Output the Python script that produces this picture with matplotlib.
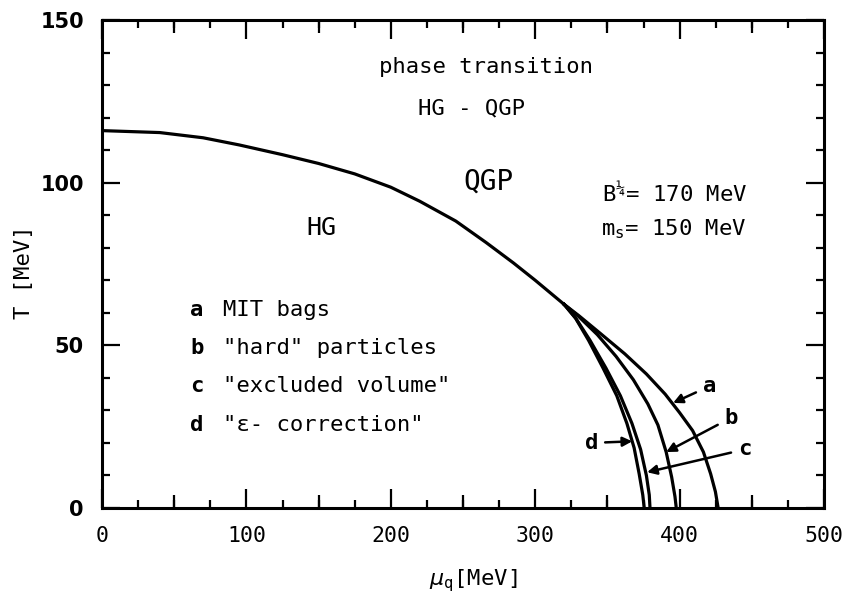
import matplotlib
matplotlib.use("Agg")
import matplotlib.pyplot as plt
from matplotlib.ticker import MultipleLocator

plt.rcParams["font.family"] = ["DejaVu Sans Mono", "DejaVu Sans"]
plt.rcParams["mathtext.fontset"] = "dejavusans"

# common part of the phase boundary T(mu_q), in MeV
mu_common = [0, 40, 70, 95, 125, 150, 175, 200, 220, 245, 266, 285, 300, 320]
T_common = [116, 115.4, 113.8, 111.6, 108.6, 105.9, 102.7, 98.6, 94.3, 88.2, 81.6, 75.3, 70.0, 62.6]

# branches for the four hadron gas models
mu_a = [320, 330, 345, 362, 377, 390, 400, 409, 416.5, 421.5, 424.8, 426.7]
T_a = [62.6, 59.2, 53.7, 47.4, 41.2, 35.0, 29.3, 23.8, 17.2, 10.5, 5.0, 0]
mu_b = [320, 330, 343, 356, 368, 378, 385, 390.7, 394.5, 396.8, 397.7]
T_b = [62.6, 58.9, 53.3, 46.6, 39.4, 32.0, 25.5, 17.2, 9.5, 3.5, 0]
mu_c = [320, 328, 338, 349, 359, 367, 373, 377, 379, 379.5]
T_c = [62.6, 58.4, 51.5, 43.0, 34.5, 26.0, 18.0, 10.0, 4.0, 0]
mu_d = [320, 328, 337, 347, 356.5, 363.5, 368.5, 372, 374.5, 375.5]
T_d = [62.6, 58.3, 51.5, 43.0, 34.5, 26.0, 18.5, 10.5, 4.0, 0]

# curve labels: letter, text position, arrow tip
curve_letters = ["a", "b", "c", "d"]
letter_pos = [(420.5, 37.4), (435.5, 27.7), (445, 18.0), (339, 20.0)]
arrow_tips = [(395.5, 32.3), (390.7, 17.2), (377.5, 11.0), (367.2, 20.5)]

# model list
model_names = ["MIT bags", '"hard" particles', '"excluded volume"', '"\u03b5- correction"']
model_rows = [61, 49.3, 37.6, 25.5]

x_ticks = [0, 100, 200, 300, 400, 500]
y_ticks = [0, 50, 100, 150]

fig = plt.figure(figsize=(8.53, 6.01), dpi=100)
ax = fig.add_axes([102 / 853, 93 / 601, 722 / 853, 488 / 601])

lw = 2.3
ax.plot(mu_common, T_common, color="k", lw=lw, solid_joinstyle="round")
for mu, T in [(mu_a, T_a), (mu_b, T_b), (mu_c, T_c), (mu_d, T_d)]:
    ax.plot(mu, T, color="k", lw=lw, solid_joinstyle="round")

ax.set_xlim(0, 500)
ax.set_ylim(0, 150)

# axes frame and ticks
for s in ax.spines.values():
    s.set_linewidth(2.2)
ax.set_xticks(x_ticks)
ax.set_yticks(y_ticks)
ax.xaxis.set_minor_locator(MultipleLocator(25))
ax.yaxis.set_minor_locator(MultipleLocator(10))
ax.tick_params(which="both", direction="in", top=True, right=True, width=1.6)
ax.tick_params(axis="x", which="major", length=14, pad=13)
ax.tick_params(axis="x", which="minor", length=6)
ax.tick_params(axis="y", which="major", length=13, pad=13)
ax.tick_params(axis="y", which="minor", length=6)
ax.set_xticklabels([str(v) for v in x_ticks], fontsize=15.5)
ax.set_yticklabels([str(v) for v in y_ticks], fontsize=15, fontweight="bold",
                   family="DejaVu Sans")

# medium ticks at the 50s
for side in ["bottom", "top"]:
    sec = ax.secondary_xaxis(side)
    sec.set_xticks([50, 150, 250, 350, 450])
    sec.tick_params(direction="in", length=9.5, width=1.6, labelbottom=False, labeltop=False)
    sec.spines[side].set_visible(False)

ax.set_xlabel(r"$\mu_{\mathregular{q}}$[MeV]", fontsize=16)
ax.xaxis.set_label_coords(0.514, -0.122)
ax.set_ylabel("T [MeV]", fontsize=16)
ax.yaxis.set_label_coords(-0.094, 0.484)

# text inside the plot
ax.text(265.8, 135.6, "phase transition", fontsize=16, ha="center", va="center")
ax.text(255.8, 122.8, "HG - QGP", fontsize=16, ha="center", va="center")
ax.text(267.8, 100.3, "QGP", fontsize=20, ha="center", va="center")
ax.text(152, 86, "HG", fontsize=18, ha="center", va="center")
ax.text(346.5, 96.8, "B$^{\\mathregular{\u00bc}}$= 170 MeV", fontsize=16, ha="left", va="center")
ax.text(345.5, 85.6, r"m$_{\mathregular{s}}$= 150 MeV", fontsize=16, ha="left", va="center")

for letter, name, row in zip(curve_letters, model_names, model_rows):
    ax.text(65.5, row, letter, fontsize=16, fontweight="bold", ha="center", va="center")
    ax.text(84, row, name, fontsize=16, ha="left", va="center")

for letter, pos, tip in zip(curve_letters, letter_pos, arrow_tips):
    ax.annotate(letter, xy=tip, xytext=pos, fontsize=16, fontweight="bold",
                ha="center", va="center",
                arrowprops=dict(arrowstyle="-|>", color="k", lw=1.8,
                                mutation_scale=14, shrinkA=3, shrinkB=0))

fig.savefig("out.png", dpi=100)
